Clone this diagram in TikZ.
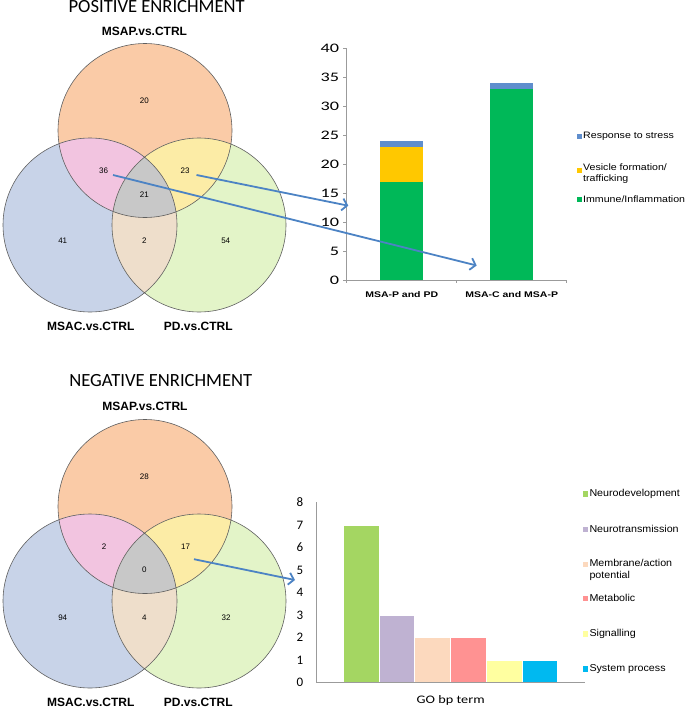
\documentclass[tikz,border=0pt]{standalone}
\usepackage{fontspec}
\setmainfont{Liberation Sans}
\newfontfamily\calib{Carlito}
\newfontfamily\calibwide[FakeStretch=1.4]{Carlito}
\newfontfamily\calibgo[FakeStretch=1.24]{Carlito}
\newfontfamily\arialtop[FakeStretch=1.14]{Liberation Sans}
\newfontfamily\arialcat[FakeStretch=1.28]{Liberation Sans}
\newfontfamily\arialbot[FakeStretch=1.07]{Liberation Sans}
\usetikzlibrary{arrows.meta}
% venn colours
\definecolor{vA}{RGB}{250,203,167}
\definecolor{vB}{RGB}{200,211,232}
\definecolor{vC}{RGB}{227,244,200}
\definecolor{vAB}{RGB}{242,196,224}
\definecolor{vAC}{RGB}{252,236,166}
\definecolor{vBC}{RGB}{238,222,203}
\definecolor{vABC}{RGB}{200,200,200}
\definecolor{vline}{RGB}{95,95,95}
% chart colours
\definecolor{axgray}{RGB}{155,155,155}
\definecolor{arrblue}{RGB}{76,131,196}
\definecolor{cStress}{RGB}{95,142,205}
\definecolor{cVesicle}{RGB}{255,200,0}
\definecolor{cImmune}{RGB}{0,184,88}
\definecolor{bNeuro}{RGB}{164,214,98}
\definecolor{bTrans}{RGB}{191,178,210}
\definecolor{bMemb}{RGB}{252,217,190}
\definecolor{bMetab}{RGB}{255,146,146}
\definecolor{bSignal}{RGB}{255,255,160}
\definecolor{bSystem}{RGB}{0,185,240}
\tikzset{
  ttl/.style={font=\calib\fontsize{18.6}{20}\selectfont, anchor=base, inner sep=0pt},
  vlab/.style={font=\bfseries\fontsize{12}{13}\selectfont, anchor=base, inner sep=0pt},
  vnum/.style={font=\fontsize{8}{9}\selectfont, inner sep=1pt},
  venn/.style={draw=vline, line width=0.6pt},
  go/.style={-{Straight Barb[length=5pt,width=12pt]}, arrblue, line width=1.8pt},
  ax/.style={draw=axgray, line width=0.7pt},
  ticktop/.style={font=\calibwide\fontsize{13}{14}\selectfont, anchor=east, inner sep=0pt},
  tickbot/.style={font=\calib\fontsize{13}{14}\selectfont, anchor=east, inner sep=0pt},
  cat/.style={font=\arialcat\bfseries\fontsize{8.2}{9}\selectfont, anchor=base, inner sep=0pt},
  legtop/.style={font=\arialtop\fontsize{9.3}{11}\selectfont, anchor=west, align=left, inner sep=0pt},
  legbot/.style={font=\arialbot\fontsize{10}{11.7}\selectfont, anchor=west, align=left, inner sep=0pt}
}

\begin{document}
\begin{tikzpicture}[x=1pt, y=-1pt]
  \useasboundingbox (0,0) rectangle (685,709);

  % both venn diagrams, same geometry
  \foreach \vy/\s in {0/p, 376/n}{
    \coordinate (\s A) at (145,130.5+\vy);
    \coordinate (\s B) at (90,225+\vy);
    \coordinate (\s C) at (199,225+\vy);
    \fill[vA] (\s A) circle[radius=87pt];
    \fill[vB] (\s B) circle[radius=87pt];
    \fill[vC] (\s C) circle[radius=87pt];
    \begin{scope}
      \clip (\s B) circle[radius=87pt];
      \fill[vBC] (\s C) circle[radius=87pt];
    \end{scope}
    \begin{scope}
      \clip (\s A) circle[radius=87pt];
      \fill[vAB] (\s B) circle[radius=87pt];
      \fill[vAC] (\s C) circle[radius=87pt];
      \clip (\s B) circle[radius=87pt];
      \fill[vABC] (\s C) circle[radius=87pt];
    \end{scope}
    \draw[venn] (\s A) circle[radius=87pt] (\s B) circle[radius=87pt] (\s C) circle[radius=87pt];
  }

  % positive enrichment
  \node[ttl] (posTitle) at (156.7,13) {POSITIVE ENRICHMENT};
  \node[vlab] (pMSAP) at (144.5,36) {MSAP.vs.CTRL};
  \node[vlab] (pMSAC) at (90.8,330) {MSAC.vs.CTRL};
  \node[vlab] (pPD) at (198.3,330) {PD.vs.CTRL};
  \node[vnum] (p20) at (144.3,100.7) {20};
  \node[vnum] (p36) at (103.5,171) {36};
  \node[vnum] (p23) at (185,171) {23};
  \node[vnum] (p21) at (144.3,194.3) {21};
  \node[vnum] (p41) at (62.7,240.7) {41};
  \node[vnum] (p2) at (144.3,240.7) {2};
  \node[vnum] (p54) at (225.7,240.7) {54};

  % negative enrichment
  \node[ttl] (negTitle) at (160.8,386.7) {NEGATIVE ENRICHMENT};
  \node[vlab] (nMSAP) at (145,410.5) {MSAP.vs.CTRL};
  \node[vlab] (nMSAC) at (90.8,706.5) {MSAC.vs.CTRL};
  \node[vlab] (nPD) at (198.3,706.5) {PD.vs.CTRL};
  \node[vnum] (n28) at (144.3,476.7) {28};
  \node[vnum] (n2) at (104,546.7) {2};
  \node[vnum] (n17) at (185.5,546.7) {17};
  \node[vnum] (n0) at (144.3,570) {0};
  \node[vnum] (n94) at (62.7,617.3) {94};
  \node[vnum] (n4) at (144.3,617.3) {4};
  \node[vnum] (n32) at (226,617.3) {32};

  % top chart
  \begin{scope}[shift={(346.7,280)}, y=5.79pt]
    \fill[cImmune] (33.5,0) rectangle (76.5,17);
    \fill[cVesicle] (33.5,17) rectangle (76.5,23);
    \fill[cStress] (33.5,23) rectangle (76.5,24);
    \fill[cImmune] (143.5,0) rectangle (186.5,33);
    \fill[cStress] (143.5,33) rectangle (186.5,34);
    \draw[ax] (0,40) -- (0,0) -- (220,0);
    \foreach \v in {0,5,...,40}{
      \draw[ax] (-3.5,\v) -- (0,\v);
      \node[ticktop] (ty\v) at (-7.5,\v) {\v};
    }
    \foreach \x in {0,110,220}
      \draw[ax] (\x,0) -- (\x,-0.6);
    \node[cat] (catPD) at (55,0) [yshift=-17pt] {MSA-P and PD};
    \node[cat] (catMSA) at (165,0) [yshift=-17pt] {MSA-C and MSA-P};
  \end{scope}
  \fill[cStress] (577,133.5) rectangle (582,138.5);
  \node[legtop] (lgStress) at (583,136) {Response to stress};
  \fill[cVesicle] (577,168) rectangle (582,173);
  \node[legtop] (lgVesicle) at (583,174) {Vesicle formation/\\trafficking};
  \fill[cImmune] (577,196.5) rectangle (582,201.5);
  \node[legtop] (lgImmune) at (583,199) {Immune/Inflammation};

  % bottom chart
  \begin{scope}[shift={(316.7,682.7)}, y=22.55pt]
    \foreach \v/\c [count=\i from 0] in {7/bNeuro, 3/bTrans, 2/bMemb, 2/bMetab, 1/bSignal, 1/bSystem}
      \filldraw[fill=\c, draw=white, line width=0.5pt] ({26.6+\i*35.7},0) rectangle ({26.6+(\i+1)*35.7},\v);
    \draw[ax] (0,8) -- (0,0) -- (268.3,0);
    \foreach \v in {0,...,8}
      \node[tickbot] (tb\v) at (-13.2,\v) {\v};
    \node[font=\calibgo\fontsize{11.5}{13}\selectfont, anchor=base, inner sep=0pt] (goTerm) at (134,0) [yshift=-20.6pt] {GO bp term};
  \end{scope}
  \fill[bNeuro] (582.7,491.2) rectangle (588.3,496.8);
  \node[legbot] (lgNeuro) at (589.3,494) {Neurodevelopment};
  \fill[bTrans] (582.7,526.5) rectangle (588.3,532.1);
  \node[legbot] (lgTrans) at (589.3,529.3) {Neurotransmission};
  \fill[bMemb] (582.7,561.5) rectangle (588.3,567.1);
  \node[legbot] (lgMemb) at (589.3,570.2) {Membrane/action\\potential};
  \fill[bMetab] (582.7,595.5) rectangle (588.3,601.1);
  \node[legbot] (lgMetab) at (589.3,598.3) {Metabolic};
  \fill[bSignal] (582.7,631.2) rectangle (588.3,636.8);
  \node[legbot] (lgSignal) at (589.3,634) {Signalling};
  \fill[bSystem] (582.7,666.2) rectangle (588.3,671.8);
  \node[legbot] (lgSystem) at (589.3,669) {System process};

  % arrows from venn regions to charts
  \coordinate (tip23) at (348.3,205.7);
  \coordinate (tip36) at (476.7,265.5);
  \coordinate (tip17) at (295,580);
  \draw[go] ([shift={(11.5,4)}]p23.center) -- (tip23);
  \draw[go] ([shift={(9.5,4)}]p36.center) -- (tip36);
  \draw[go] ([shift={(8.5,12.5)}]n17.center) -- (tip17);
\end{tikzpicture}
\end{document}
